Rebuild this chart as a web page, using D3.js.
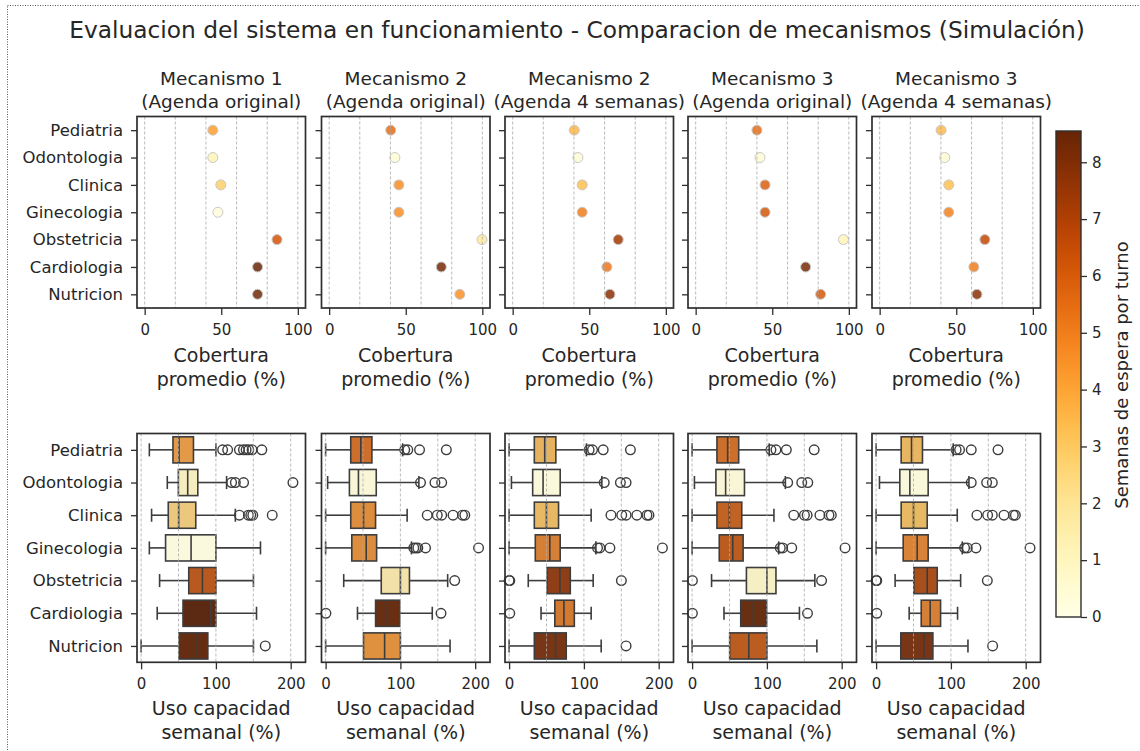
<!DOCTYPE html>
<html>
<head>
<meta charset="utf-8">
<script src="https://cdn.jsdelivr.net/npm/d3@7"></script>
<style>
  html, body { margin: 0; padding: 0; background: #fff; }
  svg text { font-family: "DejaVu Sans", sans-serif; fill: #262626; }
</style>
</head>
<body>
<svg id="chart" width="1140" height="751"></svg>
<script>
// ---- Data ----
const categories = ["Pediatria", "Odontologia", "Clinica", "Ginecologia", "Obstetricia", "Cardiologia", "Nutricion"];
const panelTitles = [
  ["Mecanismo 1", "(Agenda original)"],
  ["Mecanismo 2", "(Agenda original)"],
  ["Mecanismo 2", "(Agenda 4 semanas)"],
  ["Mecanismo 3", "(Agenda original)"],
  ["Mecanismo 3", "(Agenda 4 semanas)"]
];

// Average coverage (%) per specialty
const coverageM1Orig = [44.5, 44.5, 49.7, 47.8, 86.4, 73.7, 73.7];
const coverageM2Orig = [40.2, 42.9, 45.5, 45.5, 99.8, 73.2, 85.3];
const coverageM2Four = [40.2, 42.6, 45.4, 45.4, 68.9, 61.5, 63.5];
const coverageM3Orig = [40.0, 42.0, 45.3, 45.3, 96.5, 71.8, 81.6];
const coverageM3Four = [40.1, 42.5, 45.1, 45.1, 68.7, 61.5, 63.5];

// Weeks waited per appointment
const waitM1Orig = [4.2, 1.2, 2.8, 0.3, 6.2, 8.5, 8.3];
const waitM2Orig = [5.5, 0.5, 4.6, 4.6, 1.8, 8.2, 4.5];
const waitM2Four = [3.5, 0.4, 3.3, 5.0, 7.3, 5.2, 7.8];
const waitM3Orig = [5.5, 0.5, 5.9, 6.1, 1.1, 8.2, 6.1];
const waitM3Four = [3.4, 0.4, 3.3, 4.9, 6.6, 5.0, 7.8];

// Weekly capacity usage (%) box statistics: [whiskerLow, q1, median, q3, whiskerHigh, outliers]
const usageM1Orig = [
  [11, 42.6, 50.7, 70, 100, [109, 115.7, 131.4, 136.8, 140.4, 144, 148.4, 161.4]],
  [35, 49.8, 62.3, 75.8, 114.3, [121, 126, 137, 203]],
  [14, 36.3, 50.2, 73.1, 126, [131.4, 143.5, 146.6, 149.3, 175.3]],
  [11, 32.7, 66.8, 100, 159.6, []],
  [24.7, 63.7, 82, 100, 150.2, []],
  [21.5, 56, 93.3, 100, 154.3, []],
  [0, 50.7, 74.9, 89.2, 150.2, [166]]
];
const usageM2Orig = [
  [0, 33.6, 47.1, 61.9, 103, [105.8, 109.9, 125.6, 161.4]],
  [2.7, 31.8, 43.9, 67.7, 124.7, [126.9, 146.2, 155.2]],
  [0, 33.6, 50.7, 66.8, 109, [135.9, 149.3, 155.2, 170.4, 183, 186.1]],
  [0, 35, 54.3, 68.2, 114.8, [117.9, 120.6, 123.3, 133.6, 204.5]],
  [24.2, 74.4, 100, 112.1, 163.2, [172.6]],
  [42.6, 66.8, 82.5, 99.1, 142.6, [0.4, 154.3]],
  [0, 50.7, 78.9, 100, 166.4, []]
];
const usageM2Four = [
  [0, 33.7, 47.6, 62.5, 103.4, [107, 111.5, 125.8, 162.2]],
  [3.1, 31.5, 45.4, 68.3, 124, [127.2, 148.8, 156.4]],
  [0, 33.7, 49.9, 66.1, 109.7, [136.2, 150.6, 156.4, 170.8, 184.3, 187]],
  [0, 35, 54.4, 68.3, 116, [118.2, 121.3, 134.8, 205]],
  [25.6, 50.8, 67.9, 81.8, 112.4, [0, 0.9, 150.1]],
  [42.7, 61.1, 73.3, 87.2, 109.7, [0.9]],
  [0, 33.7, 62, 76.4, 123.1, [156.4]]
];
const usageM3Orig = [
  [0, 33.2, 47.5, 62.3, 103.1, [105.4, 112.1, 126, 163.2]],
  [3.1, 31.8, 44.8, 70, 124.7, [127.8, 146.6, 154.7]],
  [0, 33.2, 49.8, 66.4, 109.4, [135.9, 150.2, 153.8, 170.9, 183, 186.1]],
  [0, 36.3, 54.3, 68.2, 115.7, [117.9, 121.1, 133.2, 204.5]],
  [26, 72.6, 100, 112.1, 164.1, [0.4, 173.1]],
  [42.6, 65, 82, 99.6, 143.5, [0.4, 154.3]],
  [0, 50.2, 75.8, 100, 166.8, []]
];
const usageM3Four = [
  [0, 33.5, 47.3, 62, 103.1, [107, 111.6, 127.2, 163]],
  [4.5, 31.7, 45.1, 69.6, 124.1, [127.2, 147.8, 155.4]],
  [0, 33.5, 50, 68.3, 108.5, [134.8, 149.1, 155.4, 171, 183.5, 186.2]],
  [0, 36.2, 54.9, 69.6, 115.2, [118.3, 121.9, 133.5, 205.8]],
  [25.4, 50.4, 68.3, 81.7, 113, [0, 0.9, 148.7]],
  [44.2, 60.3, 72.3, 86.2, 108.9, [0.9]],
  [0, 33, 63.8, 75.9, 122.8, [155.8]]
];

const coverageTicks = [0, 50, 100];
const coverageGrid = [0, 20, 40, 60, 80, 100];
const usageTicks = [0, 100, 200];
const usageGrid = [0, 50, 100, 150, 200];
const colorbarTicks = [0, 1, 2, 3, 4, 5, 6, 7, 8];

const coverageSets = [coverageM1Orig, coverageM2Orig, coverageM2Four, coverageM3Orig, coverageM3Four];
const waitSets = [waitM1Orig, waitM2Orig, waitM2Four, waitM3Orig, waitM3Four];
const usageSets = [usageM1Orig, usageM2Orig, usageM2Four, usageM3Orig, usageM3Four];

// ---- Layout ----
const svg = d3.select("#chart");
const W = 1140, H = 751;
const panelLeft = [137, 321.5, 505, 688, 872];
const panelW = 168.5;
const topRow = { y0: 116.5, y1: 308 };
const botRow = { y0: 433.5, y1: 662.3 };
const frameColor = "#2e2e2e";
const lineColor = "#3d3d3d";
const gridColor = "#a8a8a8";
const tickFont = 15;
const catFont = 16.5;
const labelFont = 19;

// notebook-style dotted frame around the figure
svg.append("rect")
  .attr("x", 7.5).attr("y", 5.5).attr("width", W + 20).attr("height", H + 20)
  .attr("fill", "none").attr("stroke", "#555").attr("stroke-width", 1)
  .attr("stroke-dasharray", "1,1.5");

const waitMax = 8.55;
const color = d3.scaleSequential(d3.interpolateYlOrBr).domain([0, waitMax]);
function boxColor(v) {
  const c = d3.hsl(color(v));
  c.s *= 0.75;
  return c.formatHex();
}

svg.append("text")
  .attr("x", 577).attr("y", 38)
  .attr("text-anchor", "middle")
  .attr("font-size", 23.3)
  .text("Evaluacion del sistema en funcionamiento - Comparacion de mecanismos (Simulación)");

function drawFrame(g, w, h) {
  g.append("rect").attr("x", 0).attr("y", 0).attr("width", w).attr("height", h)
    .attr("fill", "none").attr("stroke", frameColor).attr("stroke-width", 1.7);
}

function drawGrid(g, x, vals, h) {
  g.append("g").selectAll("line").data(vals).join("line")
    .attr("x1", d => x(d)).attr("x2", d => x(d))
    .attr("y1", 0).attr("y2", h)
    .attr("stroke", gridColor).attr("stroke-width", 0.8)
    .attr("stroke-dasharray", "3,2");
}

function drawAxes(g, x, y, xticks, h, showY) {
  const ax = g.append("g").attr("transform", `translate(0,${h})`)
    .call(d3.axisBottom(x).tickValues(xticks).tickSize(7).tickPadding(9).tickFormat(d3.format("d")));
  ax.select(".domain").remove();
  ax.selectAll("line").attr("stroke", frameColor).attr("stroke-width", 1.3);
  ax.selectAll("text").attr("font-size", tickFont).attr("fill", "#262626").attr("font-family", "DejaVu Sans");
  const ay = g.append("g")
    .call(d3.axisLeft(y).tickValues(d3.range(categories.length)).tickSize(6).tickPadding(8)
      .tickFormat(i => showY ? categories[i] : ""));
  ay.select(".domain").remove();
  ay.selectAll("line").attr("stroke", frameColor).attr("stroke-width", 1.3);
  ay.selectAll("text").attr("font-size", catFont).attr("fill", "#262626").attr("font-family", "DejaVu Sans");
}

function axisLabel(g, w, y, lines) {
  const t = g.append("text").attr("text-anchor", "middle").attr("font-size", labelFont);
  lines.forEach((s, i) => t.append("tspan").attr("x", w / 2).attr("y", y + i * 23.5).text(s));
}

panelLeft.forEach((px, p) => {
  // ---- Top row: average coverage ----
  const h1 = topRow.y1 - topRow.y0;
  const g1 = svg.append("g").attr("transform", `translate(${px},${topRow.y0})`);
  const x1 = d3.scaleLinear().domain([-5, 105]).range([0, panelW]);
  const y1 = d3.scaleLinear().domain([-0.5, categories.length - 0.5]).range([0, h1]);

  const t = g1.append("text").attr("text-anchor", "middle").attr("font-size", 18.5);
  t.append("tspan").attr("x", panelW / 2).attr("y", -32).text(panelTitles[p][0]);
  t.append("tspan").attr("x", panelW / 2).attr("y", -9).text(panelTitles[p][1]);

  g1.append("g").selectAll("circle").data(categories).join("circle")
    .attr("cx", (d, i) => x1(coverageSets[p][i]))
    .attr("cy", (d, i) => y1(i))
    .attr("r", 5)
    .attr("fill", (d, i) => color(waitSets[p][i]))
    .attr("fill-opacity", 0.85)
    .attr("stroke", "#c8c8c8").attr("stroke-width", 1);

  drawGrid(g1, x1, coverageGrid, h1);
  drawFrame(g1, panelW, h1);
  drawAxes(g1, x1, y1, coverageTicks, h1, p === 0);
  axisLabel(g1, panelW, h1 + 54, ["Cobertura", "promedio (%)"]);

  // ---- Bottom row: weekly capacity usage ----
  const h2 = botRow.y1 - botRow.y0;
  const g2 = svg.append("g").attr("transform", `translate(${px},${botRow.y0})`);
  const x2 = d3.scaleLinear().domain([-5.5, 219.8]).range([0, panelW]);
  const y2 = d3.scaleLinear().domain([-0.5, categories.length - 0.5]).range([0, h2]);
  const bw = 0.8 * (y2(1) - y2(0));

  const boxes = g2.append("g").selectAll("g").data(usageSets[p]).join("g")
    .attr("transform", (d, i) => `translate(0,${y2(i) - bw / 2})`);
  // whiskers
  boxes.append("line").attr("x1", d => x2(d[0])).attr("x2", d => x2(d[1]))
    .attr("y1", bw / 2).attr("y2", bw / 2).attr("stroke", lineColor).attr("stroke-width", 1.6);
  boxes.append("line").attr("x1", d => x2(d[3])).attr("x2", d => x2(d[4]))
    .attr("y1", bw / 2).attr("y2", bw / 2).attr("stroke", lineColor).attr("stroke-width", 1.6);
  // caps
  [0, 4].forEach(k => {
    boxes.append("line").attr("x1", d => x2(d[k])).attr("x2", d => x2(d[k]))
      .attr("y1", bw / 4).attr("y2", bw * 3 / 4).attr("stroke", lineColor).attr("stroke-width", 1.6);
  });
  // box body
  boxes.append("rect")
    .attr("x", d => x2(d[1])).attr("width", d => x2(d[3]) - x2(d[1]))
    .attr("y", 0).attr("height", bw)
    .attr("fill", (d, i) => boxColor(waitSets[p][i]))
    .attr("stroke", lineColor).attr("stroke-width", 1.6);
  // median
  boxes.append("line").attr("x1", d => x2(d[2])).attr("x2", d => x2(d[2]))
    .attr("y1", 0).attr("y2", bw).attr("stroke", lineColor).attr("stroke-width", 1.6);
  // outliers
  boxes.each(function(d) {
    d3.select(this).selectAll("circle").data(d[5]).join("circle")
      .attr("cx", v => x2(v)).attr("cy", bw / 2).attr("r", 4.8)
      .attr("fill", "none").attr("stroke", lineColor).attr("stroke-width", 1.4);
  });

  drawGrid(g2, x2, usageGrid, h2);
  drawFrame(g2, panelW, h2);
  drawAxes(g2, x2, y2, usageTicks, h2, p === 0);
  axisLabel(g2, panelW, h2 + 53, ["Uso capacidad", "semanal (%)"]);
});

// ---- Colorbar ----
const cb = { x: 1056, y0: 131, y1: 617, w: 25 };
const cbScale = d3.scaleLinear().domain([0, waitMax]).range([cb.y1, cb.y0]);
const defs = svg.append("defs");
const grad = defs.append("linearGradient").attr("id", "cbgrad")
  .attr("x1", 0).attr("y1", 1).attr("x2", 0).attr("y2", 0);
d3.range(0, 1.0001, 0.05).forEach(tt => {
  grad.append("stop").attr("offset", tt).attr("stop-color", color(tt * waitMax));
});
svg.append("rect").attr("x", cb.x).attr("y", cb.y0).attr("width", cb.w).attr("height", cb.y1 - cb.y0)
  .attr("fill", "url(#cbgrad)").attr("stroke", frameColor).attr("stroke-width", 1.4);
const cbAxis = svg.append("g").attr("transform", `translate(${cb.x + cb.w},0)`)
  .call(d3.axisRight(cbScale).tickValues(colorbarTicks).tickSize(6).tickPadding(5).tickFormat(d3.format("d")));
cbAxis.select(".domain").remove();
cbAxis.selectAll("line").attr("stroke", frameColor).attr("stroke-width", 1.3);
cbAxis.selectAll("text").attr("font-size", tickFont).attr("fill", "#262626").attr("font-family", "DejaVu Sans");
svg.append("text")
  .attr("transform", `translate(1128,${(cb.y0 + cb.y1) / 2 + 1}) rotate(-90)`)
  .attr("text-anchor", "middle").attr("font-size", 18)
  .text("Semanas de espera por turno");
</script>
</body>
</html>
